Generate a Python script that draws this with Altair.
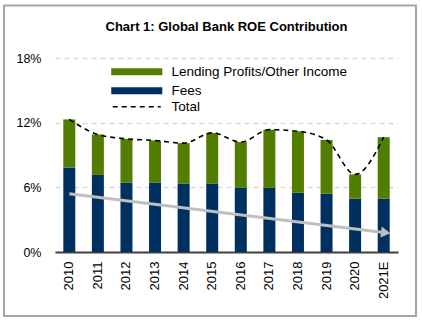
import altair as alt
import pandas as pd

years = ["2010", "2011", "2012", "2013", "2014", "2015", "2016", "2017", "2018", "2019", "2020", "2021E"]
fees = [7.85, 7.15, 6.45, 6.45, 6.35, 6.35, 5.95, 5.95, 5.5, 5.4, 4.95, 4.95]
lending = [4.45, 3.75, 4.05, 3.9, 3.75, 4.7, 4.25, 5.4, 5.7, 5.0, 2.25, 5.7]
totals = [12.3, 10.9, 10.5, 10.35, 10.1, 11.05, 10.2, 11.35, 11.2, 10.4, 7.2, 10.65]
trend_x = ["2010", "2021E"]
trend_y = [5.4, 1.8]
series_names = ["Lending Profits/Other Income", "Fees"]
y_ticks = [0, 6, 12, 18]
title_text = "Chart 1: Global Bank ROE Contribution"

GREEN = "#527d00"
NAVY = "#00305f"
FONT = "Liberation Sans"

rows = []
for i, yr in enumerate(years):
    rows.append({"year": yr, "series": "Fees", "value": fees[i], "ord": 0})
    rows.append({"year": yr, "series": "Lending Profits/Other Income", "value": lending[i], "ord": 1})
bars_df = pd.DataFrame(rows)
total_df = pd.DataFrame({"year": years, "total": totals, "label": ["Total"] * len(years)})
trend_df = pd.DataFrame({"year": trend_x, "v": trend_y})

xscale = alt.Scale(domain=years, paddingInner=0.58, paddingOuter=0.29)
yscale = alt.Scale(domain=[0, 18])

xaxis = alt.Axis(title=None, labelAngle=-90, labelAlign="right", labelBaseline="middle",
                 ticks=False, tickSize=0, labelPadding=9, domainColor="#404040",
                 domainWidth=2, labelFontSize=13, labelColor="#000000", grid=False, labelFont=FONT)
yaxis = alt.Axis(title=None, values=y_ticks, labelExpr="datum.value + '%'", ticks=False, tickSize=0,
                 domain=False, labelPadding=14, labelFontSize=12.5, labelColor="#000000",
                 grid=True, gridColor="#d9d9d9", gridDash=[5, 4], gridWidth=1.5, labelFont=FONT)

bars = alt.Chart(bars_df).mark_bar(size=12).encode(
    x=alt.X("year:N", scale=xscale, axis=xaxis, sort=years),
    y=alt.Y("value:Q", stack="zero", scale=yscale, axis=yaxis),
    color=alt.Color("series:N", scale=alt.Scale(domain=series_names, range=[GREEN, NAVY]),
                    legend=alt.Legend(title=None, orient="none", legendX=75, legendY=7, padding=0,
                                      symbolType="M-7.29,-1H7.29V1H-7.29Z", symbolSize=49,
                                      symbolOpacity=1, labelFontSize=13.5, labelFont=FONT,
                                      labelColor="#000000", rowPadding=4, labelOffset=28,
                                      labelLimit=400)),
    order=alt.Order("ord:Q", sort="ascending"),
)

trend_line = alt.Chart(trend_df).mark_line(color="#bfbfbf", strokeWidth=3).encode(
    x=alt.X("year:N", scale=xscale, sort=years),
    y=alt.Y("v:Q", scale=yscale),
)
trend_head = alt.Chart(trend_df.iloc[[1]]).mark_point(
    shape="triangle-right", filled=True, color="#bfbfbf", opacity=1, size=120, angle=7, xOffset=2
).encode(
    x=alt.X("year:N", scale=xscale, sort=years),
    y=alt.Y("v:Q", scale=yscale),
)

total_line = alt.Chart(total_df).mark_line(color="#000000", strokeWidth=1.6, interpolate="monotone").encode(
    x=alt.X("year:N", scale=xscale, sort=years),
    y=alt.Y("total:Q", scale=yscale),
    strokeDash=alt.StrokeDash("label:N", scale=alt.Scale(domain=["Total"], range=[[5, 4]]),
                              legend=alt.Legend(title=None, orient="none", legendX=75, legendY=42, padding=0,
                                                symbolType="M-6.86,0H6.86", symbolSize=49,
                                                symbolStrokeColor="#000000", symbolStrokeWidth=1.6,
                                                symbolFillColor="transparent",
                                                labelFontSize=13.5, labelFont=FONT, labelColor="#000000",
                                                labelOffset=28, labelLimit=400)),
)

frame = alt.Chart(pd.DataFrame({"a": [0]})).mark_rect(
    fill=None, stroke="#a6a6a6", strokeWidth=2
).encode(
    x=alt.value(-51), x2=alt.value(361), y=alt.value(-52.5), y2=alt.value(258)
)

title = alt.Chart(pd.DataFrame({"t": [title_text]})).mark_text(
    font=FONT, fontSize=13, fontWeight="bold", color="#000000", align="center", baseline="alphabetic"
).encode(
    text="t:N", x=alt.value(171.5), y=alt.value(-27.5)
)

chart = alt.layer(frame, title, bars, trend_line, trend_head, total_line).resolve_legend(
    color="independent", strokeDash="independent"
).properties(
    width=343, height=194,
    autosize=alt.AutoSizeParams(type="none"),
    padding={"left": 55, "right": 24, "top": 58, "bottom": 70},
    background="#ffffff",
).configure_view(stroke=None)

chart.save("out.html", embed_options={"renderer": "svg", "actions": False})
